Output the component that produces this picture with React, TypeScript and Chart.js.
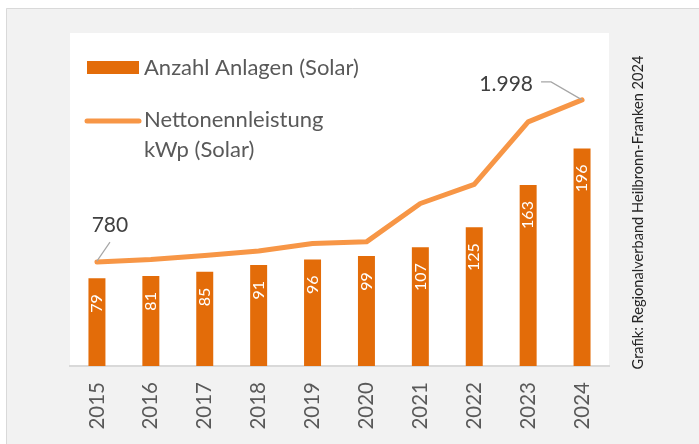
import React, { useEffect, useRef } from "react";
import { Chart, registerables } from "chart.js";

Chart.register(...registerables);

const years = ["2015", "2016", "2017", "2018", "2019", "2020", "2021", "2022", "2023", "2024"];
const anlagen = [79, 81, 85, 91, 96, 99, 107, 125, 163, 196];
const leistung = [780, 800, 830, 863, 920, 932, 1220, 1363, 1833, 1998];
const seriesNames = ["Anzahl Anlagen (Solar)", "Nettonennleistung kWp (Solar)"];
const legendLines = [["Anzahl Anlagen (Solar)"], ["Nettonennleistung", "kWp (Solar)"]];
const sourceText = "Grafik: Regionalverband Heilbronn-Franken 2024";

const BAR = "#e36c09";
const LINE = "#f79646";
const FONT = "Lato";

const fmt = (v: number) => v.toLocaleString("de-DE");

const bgPlugin = {
  id: "bg",
  beforeDraw(chart: any) {
    const { ctx, chartArea: a, width, height } = chart;
    ctx.save();
    ctx.fillStyle = "#ffffff";
    ctx.fillRect(0, 0, width, height);
    ctx.fillStyle = "#f2f2f2";
    ctx.fillRect(6, 8, width - 6, height - 8);
    ctx.strokeStyle = "#d9d9d9";
    ctx.lineWidth = 1;
    ctx.beginPath();
    ctx.moveTo(6.5, height);
    ctx.lineTo(6.5, 8.5);
    ctx.lineTo(width, 8.5);
    ctx.stroke();
    ctx.fillStyle = "#ffffff";
    ctx.fillRect(a.left, a.top, a.right - a.left, a.bottom - a.top);
    ctx.restore();
  },
};

const labelPlugin = {
  id: "labels",
  afterDatasetsDraw(chart: any) {
    const { ctx } = chart;
    ctx.save();
    // bar labels
    const bm = chart.getDatasetMeta(0);
    ctx.fillStyle = "#ffffff";
    ctx.font = `16px ${FONT}`;
    bm.data.forEach((el: any, i: number) => {
      ctx.save();
      ctx.translate(el.x, el.y + 16);
      ctx.rotate(-Math.PI / 2);
      ctx.textAlign = "right";
      ctx.textBaseline = "middle";
      ctx.fillText(String(anlagen[i]), 0, 0);
      ctx.restore();
    });
    // line labels
    const lm = chart.getDatasetMeta(1);
    const p0 = lm.data[0];
    const pn = lm.data[lm.data.length - 1];
    ctx.strokeStyle = "#a6a6a6";
    ctx.lineWidth = 1.2;
    ctx.beginPath();
    ctx.moveTo(p0.x, p0.y - 1);
    ctx.lineTo(p0.x + 13, p0.y - 20);
    ctx.stroke();
    ctx.beginPath();
    ctx.moveTo(pn.x, pn.y);
    ctx.lineTo(pn.x - 31, pn.y - 18);
    ctx.lineTo(pn.x - 41, pn.y - 18);
    ctx.stroke();
    ctx.fillStyle = "#404040";
    ctx.font = `21px ${FONT}`;
    ctx.textBaseline = "alphabetic";
    ctx.textAlign = "center";
    ctx.fillText(fmt(leistung[0]), p0.x + 13, p0.y - 30);
    ctx.textAlign = "right";
    ctx.fillText(fmt(leistung[leistung.length - 1]), pn.x - 49, pn.y - 9);
    ctx.restore();
  },
  afterDraw(chart: any) {
    const { ctx } = chart;
    ctx.save();
    // legend
    ctx.fillStyle = BAR;
    ctx.fillRect(87, 61, 52, 13);
    ctx.strokeStyle = LINE;
    ctx.lineWidth = 5;
    ctx.lineCap = "round";
    ctx.beginPath();
    ctx.moveTo(87, 121);
    ctx.lineTo(139, 121);
    ctx.stroke();
    ctx.fillStyle = "#595959";
    ctx.font = `22px ${FONT}`;
    ctx.textAlign = "left";
    ctx.textBaseline = "alphabetic";
    ctx.fillText(legendLines[0][0], 144, 75);
    ctx.fillText(legendLines[1][0], 144, 127);
    ctx.fillText(legendLines[1][1], 144, 157);
    // source text
    ctx.translate(638, 212.5);
    ctx.rotate(-Math.PI / 2);
    ctx.fillStyle = "#262626";
    ctx.font = `14.6px ${FONT}`;
    ctx.textAlign = "center";
    ctx.textBaseline = "middle";
    ctx.fillText(sourceText, 0, 0);
    ctx.restore();
  },
};

export default function App() {
  const ref = useRef<HTMLCanvasElement | null>(null);
  useEffect(() => {
    if (!ref.current) return;
    const chart = new Chart(ref.current, {
      type: "bar",
      data: {
        labels: years,
        datasets: [
          {
            type: "bar",
            label: seriesNames[0],
            data: anlagen,
            backgroundColor: BAR,
            borderWidth: 0,
            barPercentage: 0.315,
            categoryPercentage: 1,
            yAxisID: "y",
            order: 2,
          },
          {
            type: "line",
            label: seriesNames[1],
            data: leistung,
            borderColor: LINE,
            borderWidth: 5,
            pointRadius: 0,
            tension: 0,
            borderCapStyle: "round",
            borderJoinStyle: "round",
            yAxisID: "y1",
            order: 1,
          },
        ],
      } as any,
      options: {
        animation: false,
        responsive: false,
        devicePixelRatio: 1,
        layout: { padding: { left: 70, right: 90, top: 33, bottom: 0 } },
        plugins: { legend: { display: false }, tooltip: { enabled: false } },
        scales: {
          x: {
            offset: true,
            grid: { display: false, drawTicks: false },
            border: { display: true, color: "#d9d9d9", width: 2 },
            ticks: {
              color: "#595959",
              font: { family: FONT, size: 20.5 },
              minRotation: 90,
              maxRotation: 90,
              padding: 16,
              autoSkip: false,
            },
            afterFit: (s: any) => {
              s.height = 78;
            },
          },
          y: { display: false, min: 0, max: 300 },
          y1: { display: false, min: 0, max: 2500, position: "right" },
        },
      } as any,
      plugins: [bgPlugin, labelPlugin],
    });
    return () => chart.destroy();
  }, []);
  return (
    <div style={{ position: "absolute", left: 0, top: 0, width: 699, height: 444 }}>
      <canvas ref={ref} width={699} height={444} style={{ display: "block", width: 699, height: 444 }} />
    </div>
  );
}
